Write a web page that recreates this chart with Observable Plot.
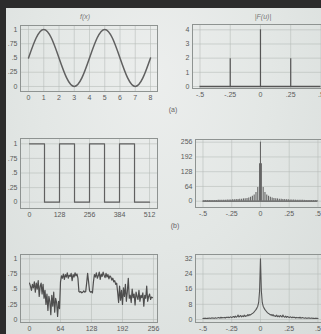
<!DOCTYPE html>
<html>
<head>
<meta charset="utf-8">
<script src="https://cdn.jsdelivr.net/npm/d3@7"></script>
<script src="https://cdn.jsdelivr.net/npm/@observablehq/plot@0.6"></script>
<style>
  html, body { margin:0; padding:0; width:321px; height:334px; overflow:hidden; background:#2c2c2c; }
  #page { position:absolute; left:6px; top:8px; width:330px; height:340px;
    background: radial-gradient(ellipse at 45% 20%, #eceeed 0%, #e3e7e5 45%, #d6dbd9 100%); }
  .lbl { position:absolute; font-family:"Liberation Sans", Arial, sans-serif; font-size:7px; color:#666; white-space:nowrap; transform:translate(-50%,-50%); }
  .ttl { font-style:italic; color:#777; }
</style>
</head>
<body>
<div id="page"></div>
<div id="root"></div>
<script>
// ---------- data ----------
// (a) sampled sinusoid f(x), x = 0..8 in steps of 0.5
const sineX = [0,0.5,1,1.5,2,2.5,3,3.5,4,4.5,5,5.5,6,6.5,7,7.5,8];
const sineY = [0.5,0.85,1,0.85,0.5,0.15,0,0.15,0.5,0.85,1,0.85,0.5,0.15,0,0.15,0.5];
// (a) spectrum spikes
const specAU = [-0.25, 0, 0.25];
const specAMag = [1.95, 4, 1.95];
const uRange = [-0.5, 0.5];

// (b) square wave edges and levels (step-after)
const squareX = [0,64,128,192,256,320,384,448,512];
const squareY = [1,0,1,0,1,0,1,0,0];
// (b) spectrum: DC and harmonic spikes (one side, mirrored)
const specBDC = 256;
const specBU = [0.0078,0.0234,0.039,0.0547,0.0703,0.0859,0.1016,0.117,0.133,0.148,0.164,0.180,0.195,0.211,0.227,0.242,0.258,0.273,0.289,0.305,0.320,0.336,0.352,0.367,0.383,0.398,0.414,0.430,0.445,0.461,0.477,0.492];
const specBMag = [162,60,38,27,21,17,14,12,11,10,9,8,7.5,7,6.5,6,5.5,5,5,4.5,4.5,4,4,4,3.5,3.5,3.5,3,3,3,3,3];

// (c) noisy signal, one value every 2 samples (0..254)
const noiseY = [0.60,0.55,0.48,0.58,0.52,0.62,0.45,0.60,0.50,0.64,0.38,0.55,0.60,0.42,0.58,0.35,
  0.48,0.25,0.42,0.15,0.38,0.30,0.08,0.40,0.22,0.45,0.12,0.35,0.28,0.05,0.30,0.18,
  0.62,
  0.72,0.68,0.75,0.66,0.74,0.70,0.77,0.68,0.73,0.71,0.76,0.64,0.74,0.70,0.77,0.72,0.75,0.68,
  0.46,0.45,0.46,0.44,0.45,0.47,0.45,0.46,0.60,
  0.76,0.62,0.47,
  0.45,0.46,0.44,0.62,
  0.74,0.70,0.77,0.68,0.72,0.78,0.66,0.75,0.71,0.78,0.73,0.69,0.76,0.70,0.74,0.67,0.72,0.70,0.65,0.68,0.62,0.64,0.58,0.60,
  0.45,0.28,0.55,0.32,0.48,0.25,0.52,0.38,0.58,0.30,0.46,0.68,0.35,0.40,0.28,0.50,0.36,0.42,0.24,0.45,0.38,0.33,0.48,0.30,0.40,0.36,0.44,0.22,0.40,0.35,0.55,0.30,0.38,0.42,0.33,0.37,0.36];
// (c) spectrum: centre value and one side at steps of 1/128 (mirrored)
const specCDC = 32;
const specCSide = [15,9,7,6,5.2,4.6,4,3.5,3.2,2.8,2.4,2.6,2.0,2.6,1.8,2.0,1.6,2.3,1.5,1.9,1.4,2.1,1.7,1.3,2.4,1.5,1.2,1.8,1.1,1.6,1.3,1.0,
  1.4,1.2,0.9,1.3,1.0,1.2,0.8,1.1,0.9,1.0,0.8,1.2,0.7,0.9,1.0,0.8,0.7,0.9,0.6,0.8,0.7,0.9,0.6,0.7,0.8,0.6,0.7,0.5,0.7,0.6,0.6,0.5];

// ticks and labels
const unitTicks = [0,0.25,0.5,0.75,1];
const unitLabels = ["0",".25",".5",".75","1"];
const sineXTicks = [0,1,2,3,4,5,6,7,8];
const sineXLabels = ["0","1","2","3","4","5","6","7","8"];
const freqTicks = [-0.5,-0.25,0,0.25,0.5];
const freqLabels = ["-.5","-.25","0",".25",".5"];
const specATicks = [0,1,2,3,4];
const specALabels = ["0","1","2","3","4"];
const sqXTicks = [0,128,256,384,512];
const sqXLabels = ["0","128","256","384","512"];
const specBTicks = [0,64,128,192,256];
const specBLabels = ["0","64","128","192","256"];
const noiseXTicks = [0,64,128,192,256];
const noiseXLabels = ["0","64","128","192","256"];
const specCTicks = [0,8,16,24,32];
const specCLabels = ["0","8","16","24","32"];

const titles = [{t:"f(x)", x:85, y:16}, {t:"|F(u)|", x:263, y:16}];
const partLabels = [{t:"(a)", x:173, y:109}, {t:"(b)", x:175, y:225}];

// ---------- drawing ----------
const ink = "#555";
const style = {fontSize:"7px", fontFamily:"Liberation Sans, Arial, sans-serif", color:"#5a5a5a", background:"transparent", overflow:"visible"};
const root = document.getElementById("root");

function fmt(ticks, labels) {
  const m = new Map(ticks.map((t,i)=>[t, labels[i]]));
  return d => m.get(d) ?? "";
}

function panel(o) {
  const chart = Plot.plot({
    width:o.width, height:o.height,
    marginLeft:o.mL, marginRight:o.mR, marginTop:o.mT, marginBottom:o.mB,
    x:{domain:o.xDom, label:null}, y:{domain:o.yDom, label:null},
    style,
    marks:[
      Plot.gridX(o.xTicks, {stroke:"#b4b9b7", strokeOpacity:0.55}),
      Plot.gridY(o.yTicks, {stroke:"#b4b9b7", strokeOpacity:0.55}),
      Plot.frame({stroke:"#8e9391", strokeWidth:1}),
      ...o.marks,
      Plot.axisX(o.xTicks, {tickSize:0, tickPadding:4, tickFormat:fmt(o.xTicks, o.xLabels), fill:"#5a5a5a", label:null}),
      Plot.axisY(o.yTicks, {tickSize:0, tickPadding:3, tickFormat:fmt(o.yTicks, o.yLabels), fill:"#5a5a5a", label:null})
    ]
  });
  chart.style.position = "absolute";
  chart.style.left = o.left + "px";
  chart.style.top = o.top + "px";
  root.appendChild(chart);
}

// (a) f(x)
panel({left:0, top:0, width:160, height:110, mL:20, mR:3, mT:25, mB:19,
  xDom:[-0.525, 8.459], yDom:[-0.088, 1.070],
  xTicks:sineXTicks, xLabels:sineXLabels, yTicks:unitTicks, yLabels:unitLabels,
  marks:[Plot.line(sineX, {x:d=>d, y:(d,i)=>sineY[i], curve:"natural", stroke:"#606060", strokeWidth:1.5})]});

// (a) |F(u)|
panel({left:160, top:0, width:170, height:110, mL:32, mR:0, mT:24, mB:22,
  xDom:[-0.562, 0.579], yDom:[-0.141, 4.374],
  xTicks:freqTicks, xLabels:freqLabels, yTicks:specATicks, yLabels:specALabels,
  marks:[
    Plot.ruleY([0], {x1:uRange[0], x2:uRange[1], stroke:ink, strokeWidth:1.3}),
    Plot.ruleX(specAU, {x:d=>d, y1:0, y2:(d,i)=>specAMag[i], stroke:ink, strokeWidth:1.2})
  ]});

// (b) square wave
panel({left:0, top:110, width:160, height:110, mL:20, mR:3, mT:28, mB:12,
  xDom:[-38.4, 546], yDom:[-0.108, 1.091],
  xTicks:sqXTicks, xLabels:sqXLabels, yTicks:unitTicks, yLabels:unitLabels,
  marks:[Plot.line(squareX, {x:d=>d, y:(d,i)=>squareY[i], curve:"step-after", stroke:"#606060", strokeWidth:1.2})]});

// (b) spectrum
const specBData = [{u:0, m:specBDC}]
  .concat(specBU.map((u,i)=>({u, m:specBMag[i]})))
  .concat(specBU.map((u,i)=>({u:-u, m:specBMag[i]})));
panel({left:160, top:110, width:170, height:110, mL:35, mR:0, mT:29, mB:13,
  xDom:[-0.565, 0.609], yDom:[-27.3, 267.7],
  xTicks:freqTicks, xLabels:freqLabels, yTicks:specBTicks, yLabels:specBLabels,
  marks:[
    Plot.ruleY([0], {x1:uRange[0], x2:uRange[1], stroke:ink, strokeWidth:1.3}),
    Plot.ruleX(specBData, {x:"u", y1:0, y2:"m", stroke:"#666", strokeWidth:1.1})
  ]});

// (c) noisy signal
panel({left:0, top:220, width:160, height:114, mL:20, mR:3, mT:34, mB:12,
  xDom:[-18.6, 264.3], yDom:[-0.049, 1.071],
  xTicks:noiseXTicks, xLabels:noiseXLabels, yTicks:unitTicks, yLabels:unitLabels,
  marks:[Plot.line(noiseY, {x:(d,i)=>i*2, y:d=>d, stroke:"#4e4e4e", strokeWidth:1.2})]});

// (c) spectrum
const specCData = specCSide.map((m,i)=>({u:-(i+1)/128, m})).reverse()
  .concat([{u:0, m:specCDC}])
  .concat(specCSide.map((m,i)=>({u:(i+1)/128, m})));
panel({left:160, top:220, width:170, height:114, mL:35, mR:0, mT:34, mB:12,
  xDom:[-0.565, 0.609], yDom:[-1.58, 34.27],
  xTicks:freqTicks, xLabels:freqLabels, yTicks:specCTicks, yLabels:specCLabels,
  marks:[Plot.line(specCData, {x:"u", y:"m", stroke:ink, strokeWidth:1.1})]});

// titles and part labels
for (const t of titles.concat(partLabels)) {
  const d = document.createElement("div");
  d.className = "lbl" + (titles.includes(t) ? " ttl" : "");
  d.textContent = t.t;
  d.style.left = t.x + "px";
  d.style.top = t.y + "px";
  root.appendChild(d);
}
</script>
</body>
</html>
